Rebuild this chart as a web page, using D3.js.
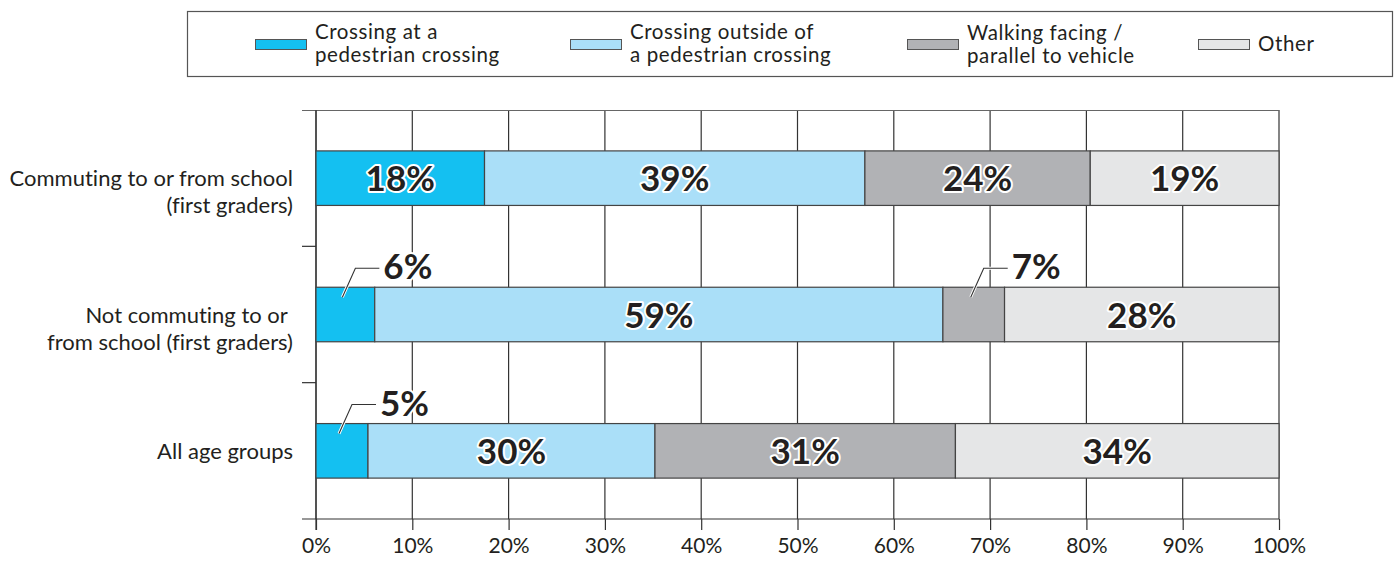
<!DOCTYPE html>
<html>
<head>
<meta charset="utf-8">
<script src="https://cdn.jsdelivr.net/npm/d3@7"></script>
<style>
  body { margin: 0; background: #fff; }
  svg { display: block; font-family: Lato, 'Open Sans', sans-serif; font-variant-ligatures: no-common-ligatures; }
</style>
</head>
<body>
<svg id="chart" width="1399" height="562"></svg>
<script>
// --- data ---
const categories = ['commuting', 'notCommuting', 'all'];
const categoryLabels = [
  ['Commuting to or from school', '(first graders)'],
  ['Not commuting to or\u00a0', 'from school (first graders)'],
  ['All age groups']
];
const seriesNames = [
  ['Crossing at a', 'pedestrian crossing'],
  ['Crossing outside of', 'a pedestrian crossing'],
  ['Walking facing /', 'parallel to vehicle'],
  ['Other']
];
const seriesColors = ['#14c0f1', '#aadff8', '#b1b2b5', '#e5e6e7'];
const atCrossing      = [17.5,  6.1,  5.4];
const outsideCrossing = [39.5, 59.0, 29.8];
const walkingAlong    = [23.4,  6.4, 31.2];
const other           = [19.6, 28.5, 33.6];
const atCrossingLabels      = ['18%', '6%', '5%'];
const outsideCrossingLabels = ['39%', '59%', '30%'];
const walkingAlongLabels    = ['24%', '7%', '31%'];
const otherLabels           = ['19%', '28%', '34%'];
const xTicks = d3.range(0, 101, 10);

const TEXT = '#231f20';
const FS = 21;
const series = [atCrossing, outsideCrossing, walkingAlong, other];
const seriesLabels = [atCrossingLabels, outsideCrossingLabels, walkingAlongLabels, otherLabels];

const svg = d3.select('#chart');

const x = d3.scaleLinear().domain([0, 100]).range([316, 1279]);
const y = d3.scaleBand().domain(categories).range([110, 519])
  .paddingInner(0.6).paddingOuter(0.3);

// --- legend ---
const legend = svg.append('g').attr('class', 'legend');
legend.append('rect')
  .attr('x', 187.5).attr('y', 11.5).attr('width', 1205).attr('height', 65)
  .attr('fill', '#fff').attr('stroke', '#555').attr('stroke-width', 1.2);
const legendX = [255, 570, 907, 1198];
seriesNames.forEach((lines, i) => {
  const g = legend.append('g').attr('transform', `translate(${legendX[i]},0)`);
  g.append('rect')
    .attr('x', 0.5).attr('y', 39.5).attr('width', 51).attr('height', 10)
    .attr('fill', seriesColors[i]).attr('stroke', '#555').attr('stroke-width', 1);
  const y0 = lines.length === 1 ? 51 : (i === 2 ? 40 : 39);
  lines.forEach((l, j) => g.append('text')
    .attr('x', 60).attr('y', y0 + j * 23)
    .attr('fill', TEXT).attr('font-size', 20.5).attr('letter-spacing', 0.6).text(l));
});

// --- grid ---
const grid = svg.append('g').attr('class', 'grid');
grid.selectAll('.vline').data(xTicks).enter().append('line')
  .attr('class', 'vline')
  .attr('x1', d => x(d)).attr('x2', d => x(d))
  .attr('y1', 110).attr('y2', 519)
  .attr('stroke', '#333').attr('stroke-width', 1.2);
grid.append('line')
  .attr('x1', 302).attr('x2', x(100)).attr('y1', 110.5).attr('y2', 110.5)
  .attr('stroke', '#666').attr('stroke-width', 1.2);

// category separators on the left
const bounds = d3.range(1, categories.length).map(i => 110 + i * y.step());
grid.selectAll('.ctick').data(bounds).enter().append('line')
  .attr('x1', 302).attr('x2', 316).attr('y1', d => d).attr('y2', d => d)
  .attr('stroke', '#333').attr('stroke-width', 1.2);

// --- x axis ---
const xAxis = svg.append('g')
  .attr('transform', 'translate(0,519)')
  .call(d3.axisBottom(x).tickValues(xTicks).tickFormat(d => d + '%').tickSize(11).tickPadding(8));
xAxis.select('.domain').remove();
xAxis.selectAll('.tick line').attr('stroke', '#333').attr('stroke-width', 1.2);
xAxis.selectAll('.tick text')
  .attr('fill', TEXT).attr('font-size', FS).attr('font-family', "Lato, 'Open Sans', sans-serif");
svg.append('line')
  .attr('x1', 302).attr('x2', x(100)).attr('y1', 519).attr('y2', 519)
  .attr('stroke', '#333').attr('stroke-width', 1.2);
svg.append('line')
  .attr('x1', x(0)).attr('x2', x(0)).attr('y1', 110).attr('y2', 530)
  .attr('stroke', '#333').attr('stroke-width', 1.2);

// --- y labels ---
const yLab = svg.append('g').selectAll('text').data(categories).enter().append('text')
  .attr('text-anchor', 'end').attr('fill', TEXT).attr('font-size', 22);
yLab.each(function (d, i) {
  const cy = y(d) + y.bandwidth() / 2;
  categoryLabels[i].forEach((l, j) => {
    d3.select(this).append('tspan')
      .attr('x', 293).attr('y', cy + 8 + j * 27).text(l);
  });
});

// --- stacked bars ---
const segs = [];
categories.forEach((c, ci) => {
  let acc = 0;
  series.forEach((s, si) => {
    segs.push({ cat: c, si, x0: acc, x1: acc + s[ci], label: seriesLabels[si][ci] });
    acc += s[ci];
  });
});

svg.append('g').selectAll('rect').data(segs).enter().append('rect')
  .attr('x', d => x(d.x0)).attr('width', d => x(d.x1) - x(d.x0))
  .attr('y', d => y(d.cat)).attr('height', y.bandwidth())
  .attr('fill', d => seriesColors[d.si])
  .attr('stroke', '#444').attr('stroke-width', 1.2);

// --- value labels ---
const big = segs.filter(d => d.x1 - d.x0 >= 10);
const small = segs.filter(d => d.x1 - d.x0 < 10);

svg.append('g').selectAll('text').data(big).enter().append('text')
  .attr('x', d => x((d.x0 + d.x1) / 2))
  .attr('y', d => y(d.cat) + y.bandwidth() / 2 + 13)
  .attr('text-anchor', 'middle')
  .attr('font-size', 35).attr('font-weight', 700)
  .attr('fill', TEXT).attr('stroke', '#fff').attr('stroke-width', 4)
  .attr('stroke-linejoin', 'round').attr('paint-order', 'stroke')
  .text(d => d.label);

const callout = svg.append('g').selectAll('g').data(small).enter().append('g');
const leader = d => {
  const sx = x((d.x0 + d.x1) / 2) - 3, sy = y(d.cat) + 10;
  const ex = sx + 13, ey = y(d.cat) - 19;
  return [[sx, sy], [ex, ey], [ex + 24, ey]];
};
callout.append('path')
  .attr('d', d => d3.line()(leader(d)))
  .attr('fill', 'none').attr('stroke', '#fff').attr('stroke-width', 3);
callout.append('path')
  .attr('d', d => d3.line()(leader(d)))
  .attr('fill', 'none').attr('stroke', '#333').attr('stroke-width', 1.1);
callout.append('text')
  .attr('x', d => leader(d)[2][0] + 4)
  .attr('y', d => y(d.cat) - 8)
  .attr('font-size', 35).attr('font-weight', 700)
  .attr('fill', TEXT).attr('stroke', '#fff').attr('stroke-width', 4)
  .attr('stroke-linejoin', 'round').attr('paint-order', 'stroke')
  .text(d => d.label);
</script>
</body>
</html>
